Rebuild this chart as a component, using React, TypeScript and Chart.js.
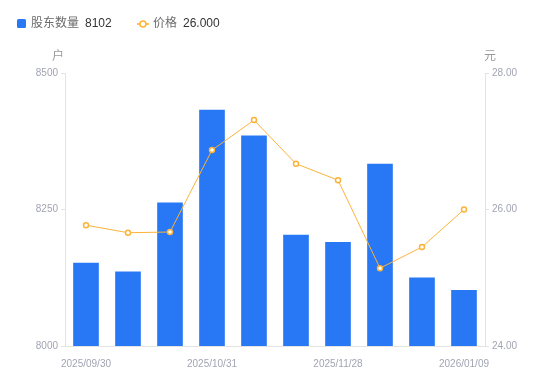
import React, { useEffect, useRef } from "react";
import { Chart, registerables } from "chart.js";

Chart.register(...registerables);

const dates = [
  "2025/09/30", "2025/10/10", "2025/10/20", "2025/10/31", "2025/11/10",
  "2025/11/20", "2025/11/28", "2025/12/10", "2025/12/31", "2026/01/09",
];
const holders = [8152, 8136, 8262, 8432, 8385, 8203, 8190, 8333, 8125, 8102];
const prices = [25.77, 25.66, 25.67, 26.87, 27.31, 26.67, 26.43, 25.14, 25.45, 26.0];
const holderLabel = "股东数量";
const priceLabel = "价格";
const holderUnit = "户";
const priceUnit = "元";

const BLUE = "#2878f5";
const ORANGE = "#fbb33a";
const AXIS_TEXT = "#a2a4b3";
const AXIS_LINE = "#e3e3e3";
const FONT = "'Liberation Sans', 'Noto Sans CJK SC', sans-serif";

const overlay = {
  id: "overlay",
  afterDraw(chart: any) {
    const ctx = chart.ctx;
    const ca = chart.chartArea;
    ctx.save();
    ctx.textBaseline = "middle";
    // legend
    ctx.font = `12px ${FONT}`;
    ctx.fillStyle = BLUE;
    ctx.beginPath();
    (ctx as any).roundRect(17, 19, 9, 9, 1.5);
    ctx.fill();
    let x = 31;
    ctx.fillStyle = "#6b6b6b";
    ctx.textAlign = "left";
    ctx.fillText(holderLabel, x, 24);
    x += ctx.measureText(holderLabel).width + 6;
    ctx.fillStyle = "#333";
    ctx.fillText(String(holders[holders.length - 1]), x, 24);

    ctx.strokeStyle = ORANGE;
    ctx.lineWidth = 1.5;
    ctx.beginPath();
    ctx.moveTo(137, 24);
    ctx.lineTo(149, 24);
    ctx.stroke();
    ctx.fillStyle = "#fff";
    ctx.beginPath();
    ctx.arc(143, 24, 3, 0, Math.PI * 2);
    ctx.fill();
    ctx.stroke();
    x = 153;
    ctx.fillStyle = "#6b6b6b";
    ctx.fillText(priceLabel, x, 24);
    x += ctx.measureText(priceLabel).width + 6;
    ctx.fillStyle = "#333";
    ctx.fillText(prices[prices.length - 1].toFixed(3), x, 24);

    // axis unit titles
    ctx.fillStyle = "#999";
    ctx.textAlign = "center";
    ctx.fillText(holderUnit, ca.left - 7, 57);
    ctx.fillText(priceUnit, ca.right + 5, 57);
    ctx.restore();
  },
};

export default function App() {
  const ref = useRef<HTMLCanvasElement>(null);
  useEffect(() => {
    document.body.style.margin = "0";
    const chart = new Chart(ref.current!, {
      data: {
        labels: dates,
        datasets: [
          {
            type: "line",
            label: priceLabel,
            data: prices,
            yAxisID: "y1",
            borderColor: ORANGE,
            borderWidth: 1,
            pointRadius: 2.5,
            pointBorderWidth: 1.5,
            pointBackgroundColor: "#fff",
            pointBorderColor: ORANGE,
            tension: 0,
            order: 0,
          },
          {
            type: "bar",
            label: holderLabel,
            data: holders,
            yAxisID: "y",
            backgroundColor: BLUE,
            barThickness: 25,
            order: 1,
          },
        ],
      } as any,
      options: {
        animation: false,
        responsive: false,
        layout: { padding: { top: 73, left: 0, right: 0, bottom: 0 } },
        plugins: { legend: { display: false }, tooltip: { enabled: false } },
        scales: {
          x: {
            grid: { display: false },
            border: { display: true, color: AXIS_LINE },
            ticks: {
              autoSkip: false,
              maxRotation: 0,
              padding: 4,
              color: AXIS_TEXT,
              font: { size: 10, family: FONT },
              callback: (_v: any, i: number) => (i % 3 === 0 ? dates[i] : ""),
            },
            afterFit: (s: any) => { s.height = 35; },
          },
          y: {
            position: "left",
            min: 8000,
            max: 8500,
            ticks: {
              stepSize: 250,
              color: AXIS_TEXT,
              padding: 3,
              font: { size: 10, family: FONT },
              callback: (v: any) => String(v),
            },
            grid: { drawOnChartArea: false, drawTicks: true, tickLength: 4, color: AXIS_LINE },
            border: { display: true, color: AXIS_LINE },
            afterFit: (s: any) => { s.width = 65; },
          },
          y1: {
            position: "right",
            min: 24,
            max: 28,
            ticks: {
              stepSize: 2,
              color: AXIS_TEXT,
              padding: 3,
              font: { size: 10, family: FONT },
              callback: (v: any) => Number(v).toFixed(2),
            },
            grid: { drawOnChartArea: false, drawTicks: true, tickLength: 4, color: AXIS_LINE },
            border: { display: true, color: AXIS_LINE },
            afterFit: (s: any) => { s.width = 65; },
          },
        },
      },
      plugins: [overlay],
    });
    return () => chart.destroy();
  }, []);
  return (
    <div style={{ width: 550, height: 381 }}>
      <canvas ref={ref} width={550} height={381} style={{ display: "block" }} />
    </div>
  );
}
